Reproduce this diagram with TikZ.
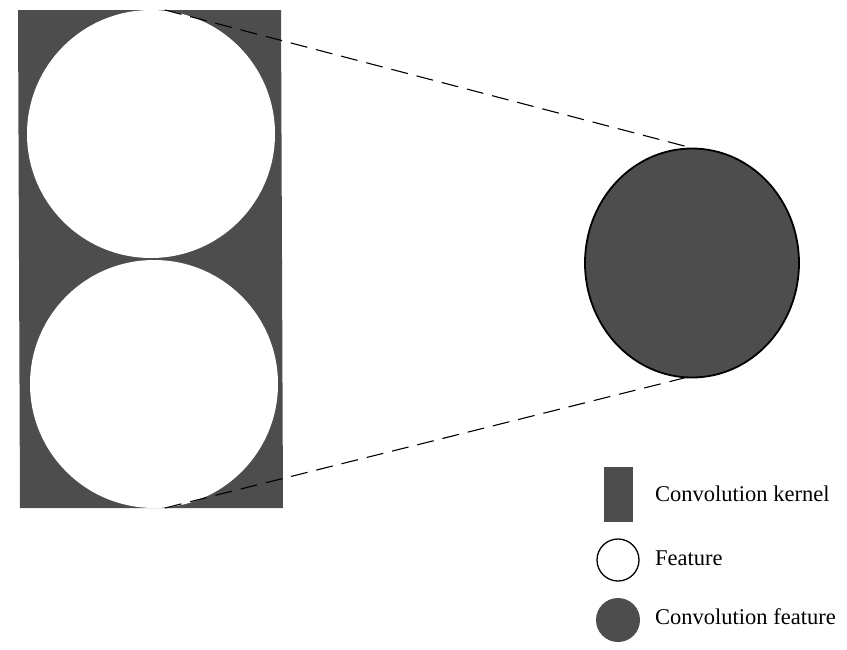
\documentclass[tikz,border=0pt]{standalone}
\usepackage{fontspec}
\setmainfont{Liberation Serif}
\usetikzlibrary{shapes.geometric}
\definecolor{kgray}{HTML}{4D4D4D}
\tikzset{
  kernelfill/.style={fill=kgray, draw=none},
  featcirc/.style={circle, fill=white, draw=none, inner sep=0pt, minimum size=248pt},
  convfeat/.style={ellipse, fill=kgray, draw=black, line width=1.8pt, inner sep=0pt},
  link/.style={draw=black, line width=1.1pt, dash pattern=on 17pt off 9pt},
  legtext/.style={anchor=west, inner sep=0pt, font=\fontsize{22.5}{26}\selectfont},
}
\begin{document}
\begin{tikzpicture}[x=1pt,y=-1pt]
\useasboundingbox (0,0) rectangle (847,649);
% convolution kernel
\path[kernelfill] (18,10) -- (281,10) -- (283,508) -- (20,508) -- cycle;
\node[featcirc] (f1) at (151,134) {};
\node[featcirc] (f2) at (154,384) {};
% convolution feature
\node[convfeat, minimum width=214pt, minimum height=229pt] (cf) at (692,263) {};
\coordinate (t1) at (165,10);
\coordinate (b1) at (165,508);
\coordinate (t2) at (692,148);
\coordinate (b2) at (688,377);
\draw[link] (t1) -- (t2);
\draw[link] (b1) -- (b2);
% legend
\node[kernelfill, rectangle, inner sep=0pt, minimum width=29pt, minimum height=55pt] (lk) at (618.5,494.5) {};
\node[circle, fill=white, draw=black, line width=1.3pt, inner sep=0pt, minimum size=42pt] (lf) at (618,560) {};
\node[circle, fill=kgray, draw=none, inner sep=0pt, minimum size=44pt] (lc) at (618,620) {};
\node[legtext] (tk) at (655,494) {Convolution kernel};
\node[legtext] (tf) at (655,558) {Feature};
\node[legtext] (tc) at (655,617) {Convolution feature};
\end{tikzpicture}
\end{document}
